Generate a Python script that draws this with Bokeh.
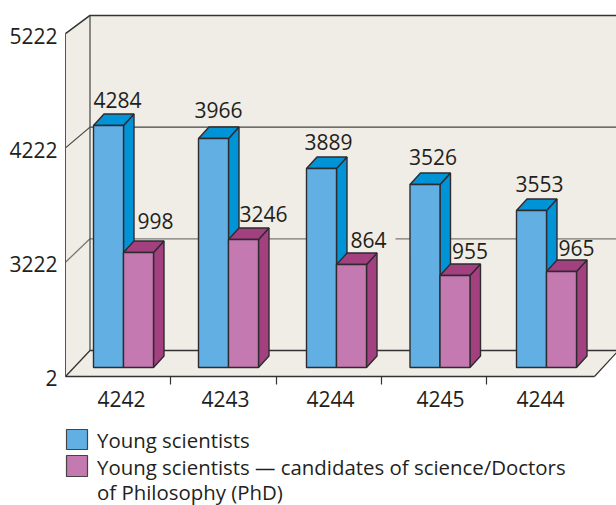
from bokeh.plotting import figure
from bokeh.models import Range1d, LinearAxis, FixedTicker
from bokeh.core.properties import value
from bokeh.embed import file_html
from bokeh.resources import INLINE

# ---- data ----
years = ["4242", "4243", "4244", "4245", "4244"]
young_values = [2142, 2027, 1761, 1620, 1389]
phd_values = [1018, 1133, 911, 814, 850]
young_labels = ["4284", "3966", "3889", "3526", "3553"]
phd_labels = ["998", "3246", "864", "955", "965"]
axis_values = [0, 1000, 2000, 3000]
axis_labels = ["2", "3222", "4222", "5222"]
legend_rows = ["Young scientists",
               "Young scientists \u2014 candidates of science/Doctors",
               "of Philosophy (PhD)"]

# ---- layout ----
W, H = 616, 505
FONT = "Open Sans"
INK = "#231f20"
EDGE = "#2e2b30"
WALL = "#f0ede6"
BLUE, BLUE_D = "#62b0e3", "#0094d6"
PURPLE, PURPLE_D = "#c47ab0", "#a34080"

PX0, PY0 = 0, 0                # page offset of the figure
BASE_Y, SCALE = 367, 0.113     # pixel row of zero and pixels per unit for bars
BACK_Y, BACK_SCALE = 350, 0.1117
FRONT_Y = 376
LEFT_X, BACK_X, FRONT_END, RIGHT_X = 65, 89.5, 594, 616
BAR_W, DX, DY = 30, 10.5, 11.5
SLOT = 105.5
NUDGE = [0, -0.5, 2, 0, 1]


def v(py):
    """pixel row -> value units of the main y range"""
    return (BASE_Y - py) / SCALE


p = figure(width=W, height=H, output_backend="svg", toolbar_location=None,
           x_range=Range1d(PX0, PX0 + W), y_range=Range1d(v(PY0 + H), v(PY0)),
           x_axis_type=None, y_axis_type=None, min_border=0,
           background_fill_color="white", border_fill_color="white",
           outline_line_color=None)
p.grid.visible = False
p.extra_y_ranges = {"front": Range1d((377 - (PY0 + H)) / 0.1137, (377 - PY0) / 0.1137)}

# walls and floor
top_y = v(BACK_Y - 3000 * BACK_SCALE)
p.patch([BACK_X, RIGHT_X, RIGHT_X, BACK_X], [top_y, top_y, v(BACK_Y), v(BACK_Y)],
        fill_color=WALL, line_color=None)
p.patch([LEFT_X, BACK_X, BACK_X, LEFT_X], [v(33), top_y, v(BACK_Y), v(FRONT_Y)],
        fill_color=WALL, line_color=None)
p.patch([LEFT_X, BACK_X, RIGHT_X, FRONT_END], [v(FRONT_Y), v(BACK_Y), v(BACK_Y), v(FRONT_Y)],
        fill_color=WALL, line_color=None)

# grid lines on back wall and side wall
for a, color, width in zip(axis_values, ["#333333", "#7a7875", "#444444", "#333333"],
                           [1.3, 1.3, 1.2, 1.5]):
    wy = BACK_Y - a * BACK_SCALE
    fy = FRONT_Y - a * 0.1143
    p.line([LEFT_X, BACK_X, RIGHT_X], [v(fy), v(wy), v(wy)], line_color=color, line_width=width)
p.line([BACK_X, BACK_X], [v(BACK_Y), top_y], line_color="#444444", line_width=1.2)
p.line([LEFT_X, LEFT_X], [v(FRONT_Y), v(33)], line_color="#555555", line_width=1)
p.line([FRONT_END, RIGHT_X], [v(FRONT_Y), v(BACK_Y + 2)], line_color="#333333", line_width=1.2)

# the line is broken around the "864" label
p.quad(left=[346], right=[395], bottom=[v(244)], top=[v(236)], fill_color=WALL, line_color=None)


def bar(x, val, front, dark):
    y0, y1 = 0.0, float(val)
    dy = DY / SCALE
    xr = x + BAR_W
    p.patch([xr, xr + DX, xr + DX, xr], [y0, y0 + dy, y1 + dy, y1],
            fill_color=dark, line_color=EDGE, line_width=1.4)
    p.patch([x, x + DX, xr + DX, xr], [y1, y1 + dy, y1 + dy, y1],
            fill_color=dark, line_color=EDGE, line_width=1.4)
    p.quad(left=[x], right=[xr], bottom=[y0], top=[y1],
           fill_color=front, line_color=EDGE, line_width=1.4)


for i in range(len(years)):
    xb = 93 + SLOT * i + NUDGE[i]
    bar(xb, young_values[i], BLUE, BLUE_D)
    bar(xb + BAR_W, phd_values[i], PURPLE, PURPLE_D)

# value labels
young_dx = [24, 20, 22, 23, 23]
young_up = [25, 28, 27, 27, 27]
phd_dx = [32, 35, 32, 30, 30]
phd_up = [31, 25, 25, 25, 23]
xs, ys, ts = [], [], []
for i in range(len(years)):
    xb = 93 + SLOT * i + NUDGE[i]
    xs += [xb + young_dx[i], xb + BAR_W + phd_dx[i]]
    ys += [young_values[i] + young_up[i] / SCALE, phd_values[i] + phd_up[i] / SCALE]
    ts += [young_labels[i], phd_labels[i]]
p.text(xs, ys, text=ts, text_font=value(FONT), text_font_size="21px", text_color=INK,
       text_align="center", text_baseline="middle")

# value axis: labels only, its line is the edge of the side wall
yax = LinearAxis(y_range_name="front", fixed_location=LEFT_X,
                 ticker=FixedTicker(ticks=axis_values),
                 major_label_overrides=dict(zip(axis_values, axis_labels)),
                 major_tick_line_color=None, minor_tick_line_color=None, axis_line_color=None,
                 major_label_text_font=FONT, major_label_text_font_size="21px",
                 major_label_text_color=INK, major_label_standoff=2)
p.add_layout(yax, "left")

# category axis: marks between the years
tick_x = [LEFT_X + 105.3 * k for k in range(1, 5)]
xax = LinearAxis(fixed_location=v(FRONT_Y), ticker=FixedTicker(ticks=tick_x),
                 major_label_overrides={t: "" for t in tick_x}, major_tick_in=0, major_tick_out=8,
                 major_tick_line_color="#333333", major_tick_line_width=1.2,
                 minor_tick_line_color=None, axis_line_color="#333333", axis_line_width=1.3,
                 bounds=(LEFT_X, FRONT_END))
p.add_layout(xax, "below")

label_x = [121, 225, 330, 440, 540]
xlab = LinearAxis(fixed_location=v(FRONT_Y), ticker=FixedTicker(ticks=label_x),
                  major_label_overrides=dict(zip(label_x, years)),
                  major_tick_line_color=None, minor_tick_line_color=None, axis_line_color=None,
                  major_label_text_font=FONT, major_label_text_font_size="21px",
                  major_label_text_color=INK, major_label_standoff=8)
p.add_layout(xlab, "below")

# legend
p.quad(left=[66, 66], right=[87, 87], bottom=[v(449), v(476)], top=[v(429), v(455)],
       fill_color=[BLUE, PURPLE], line_color="#444444", line_width=1.2)
p.text([96.5, 96.5, 96.5], [v(439), v(466), v(491)], text=legend_rows, text_font=value(FONT),
       text_font_size="20.4px", text_color=INK, text_align="left", text_baseline="middle")

open("out.html", "w").write(file_html(p, INLINE))
